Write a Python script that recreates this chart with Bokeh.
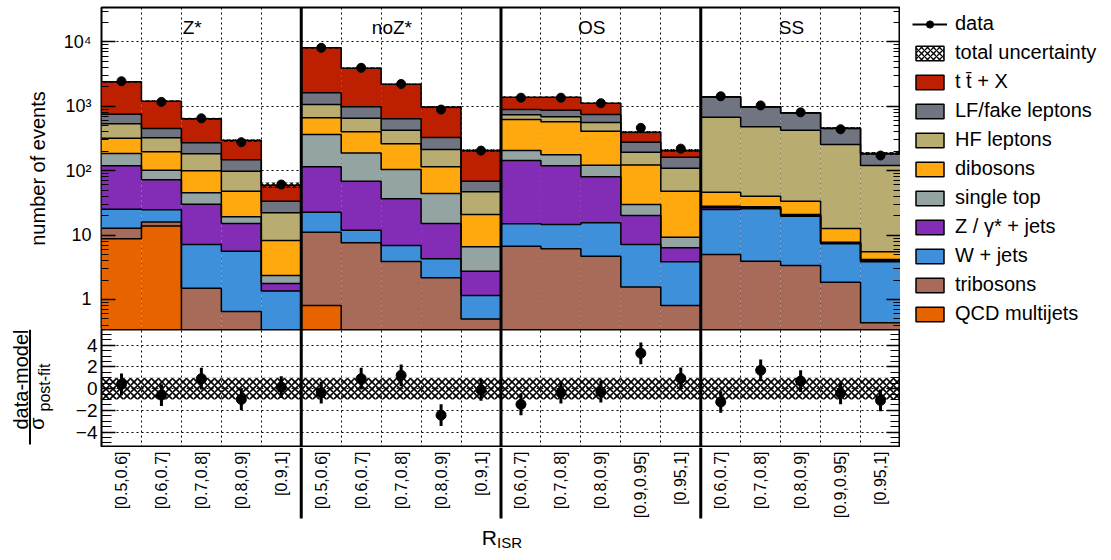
import numpy as np
from math import pi
from bokeh.plotting import figure
from bokeh.layouts import column, row
from bokeh.models import (Range1d, FixedTicker, LogAxis, LinearAxis, Legend, LegendItem,
                          Span, Grid)
from bokeh.embed import file_html
from bokeh.resources import INLINE
from bokeh.core.properties import value

FONT = "Liberation Sans"

# ---------------- data ----------------
regions = ["Z*", "noZ*", "OS", "SS"]
region_sizes = [5, 5, 5, 5]
bin_labels = ["[0.5,0.6]", "[0.6,0.7]", "[0.7,0.8]", "[0.8,0.9]", "[0.9,1]",
              "[0.5,0.6]", "[0.6,0.7]", "[0.7,0.8]", "[0.8,0.9]", "[0.9,1]",
              "[0.6,0.7]", "[0.7,0.8]", "[0.8,0.9]", "[0.9,0.95]", "[0.95,1]",
              "[0.6,0.7]", "[0.7,0.8]", "[0.8,0.9]", "[0.9,0.95]", "[0.95,1]"]

qcd = [8.75, 13.8, 0, 0, 0, 0.81, 0, 0, 0, 0, 0, 0, 0, 0, 0, 0, 0, 0, 0, 0]
tribosons = [4.05, 2.1, 1.5, 0.65, 0.25, 10.3, 7.59, 3.89, 2.17, 0.50,
             6.73, 6.12, 4.71, 1.57, 0.81, 5.0, 3.94, 3.37, 1.86, 0.435]
wjets = [12.4, 8.8, 5.64, 4.97, 1.11, 11.6, 4.31, 3.01, 2.11, 0.65,
         8.27, 8.48, 10.8, 5.57, 3.04, 20.0, 21.6, 16.3, 5.47, 3.41]
zjets = [93.8, 47.5, 23.1, 9.48, 0.41, 92.3, 56.8, 29.7, 10.8, 1.6,
         129, 105, 64.9, 13.0, 2.49, 1.5, 1.0, 0.6, 0.2, 0.17]
single_top = [66, 29.8, 15.1, 4.1, 0.59, 250, 120, 67.4, 29.2, 3.83,
              62, 58, 41.6, 9.8, 2.94, 1.6, 1.0, 0.6, 0.23, 0.16]
dibosons = [135, 94, 54.3, 28.9, 5.88, 297, 213, 157, 70.7, 14.3,
            418, 396, 289, 93.1, 38.8, 18.3, 12.7, 12.7, 4.94, 1.32]
hf_leptons = [215, 128, 83.4, 50.1, 14.0, 405, 252, 165, 98, 26.1,
              114, 112, 149, 71, 60.9, 631, 441, 392, 242, 114.5]
lf_fake = [219, 128, 88, 49.8, 11.4, 555, 328, 214, 115, 21.7,
           154, 185, 186, 83, 53, 713, 493, 361, 198, 63]
ttx = [1646, 748, 369, 146, 26, 6468, 2928, 1560, 640, 137,
       493, 514, 371, 119, 44, 13, 8, 6, 4, 2]

data_counts = [2450, 1170, 650, 277, 61, 8100, 3960, 2220, 890, 205,
               1360, 1360, 1117, 463, 220, 1430, 1030, 805, 440, 172]
unc_rel = [0.03, 0.03, 0.04, 0.05, 0.10, 0.03, 0.03, 0.03, 0.04, 0.05,
           0.03, 0.03, 0.03, 0.04, 0.05, 0.03, 0.03, 0.03, 0.04, 0.05]

pulls = [0.4, -0.59, 0.92, -0.99, 0.15, -0.37, 0.92, 1.23, -2.44, -0.12,
         -1.45, -0.37, -0.28, 3.26, 0.95, -1.23, 1.69, 0.70, -0.43, -1.08]
pull_err = [1.0] * 20
pull_band = [1.0] * 20

process_names = ["t t\u0304 + X", "LF/fake leptons", "HF leptons", "dibosons", "single top",
                 "Z / \u03b3* + jets", "W + jets", "tribosons", "QCD multijets"]
process_colors = ["#bd1f01", "#717581", "#b9ac70", "#ffa90e", "#94a4a2",
                  "#832db6", "#3f90da", "#a96b59", "#e76300"]
process_values = [ttx, lf_fake, hf_leptons, dibosons, single_top, zjets, wjets, tribosons, qcd]

# ---------------- derived ----------------
n = len(bin_labels)
edges = np.arange(n + 1, dtype=float)
left = edges[:-1]
right = edges[1:]
centers = left + 0.5
FLOOR = 1e-3
bottom_to_top = [np.array(v, dtype=float) for v in process_values[::-1]]
colors_btt = process_colors[::-1]
cum = np.cumsum(np.vstack(bottom_to_top), axis=0)
tops = np.maximum(cum, FLOOR)
bottoms = np.vstack([np.full(n, FLOOR), tops[:-1]])
total = cum[-1]
unc = np.array(unc_rel)
dc = np.array(data_counts, dtype=float)
sep_pos = [float(v) for v in np.cumsum(region_sizes)[:-1]]
region_starts = np.concatenate([[0], np.cumsum(region_sizes)[:-1]])

FRAME_W = 799
LEFT_B = 101
YL_W = 60
TOP_B = 7
HATCH = dict(hatch_pattern="diagonal_cross", hatch_color="black", hatch_scale=6, hatch_weight=1.3)


def style_axis(ax, size="18px", standoff=10, tin=14, tmin=7):
    ax.axis_line_color = None
    ax.major_tick_in = tin
    ax.major_tick_out = 0
    ax.minor_tick_in = tmin
    ax.minor_tick_out = 0
    ax.major_tick_line_color = "black"
    ax.minor_tick_line_color = "black"
    ax.major_tick_line_width = 1.3
    ax.minor_tick_line_width = 1.1
    ax.major_label_text_font = FONT
    ax.major_label_text_font_size = size
    ax.major_label_text_color = "black"
    ax.major_label_standoff = standoff


def bare(fig):
    fig.outline_line_color = None
    fig.xgrid.grid_line_color = None
    fig.ygrid.grid_line_color = None


# ---------------- top panel ----------------
p = figure(frame_width=FRAME_W, frame_height=322, y_axis_type="log",
           x_range=Range1d(0, n), y_range=Range1d(0.342, 34200),
           x_axis_location=None, output_backend="svg", toolbar_location=None,
           min_border_left=LEFT_B, min_border_top=TOP_B, min_border_bottom=0, min_border_right=0)
p.outline_line_color = "black"
p.outline_line_width = 2
p.background_fill_color = "white"
p.border_fill_color = "white"
p.ygrid.grid_line_color = None
p.xgrid.grid_line_color = None

major_log = [1, 10, 100, 1000, 10000]
minor_log = [k * 10.0 ** d for d in range(-1, 5) for k in range(2, 10)]
ya = p.yaxis[0]
ya.ticker = FixedTicker(ticks=major_log, minor_ticks=minor_log)
style_axis(ya, size="18px", standoff=10)
ya.major_label_overrides = {1: "1", 10: "10", 100: "10\u00b2", 1000: "10\u00b3", 10000: "10\u2074"}
ya.axis_label = "number of events"
ya.axis_label_text_font = FONT
ya.axis_label_text_font_size = "20px"
ya.axis_label_text_font_style = "normal"
ya.axis_label_text_color = "black"
ya.axis_label_standoff = 12

ra = LogAxis(ticker=FixedTicker(ticks=major_log, minor_ticks=minor_log))
style_axis(ra, size="12px", standoff=0)
ra.major_label_overrides = {t: "" for t in major_log}
p.add_layout(ra, "right")

p.add_layout(Grid(dimension=0, ticker=FixedTicker(ticks=list(edges[1:-1])),
                  grid_line_color="black", grid_line_dash="2 3", grid_line_width=1))
p.add_layout(Grid(dimension=1, ticker=FixedTicker(ticks=major_log),
                  grid_line_color="black", grid_line_dash="2 3", grid_line_width=1))

for k in range(len(bottom_to_top)):
    p.quad(left=left, right=right, bottom=bottoms[k], top=tops[k],
           fill_color=colors_btt[k], line_color=None)
for k in range(len(bottom_to_top)):
    p.step(x=edges, y=np.append(tops[k], tops[k][-1]), mode="after",
           line_color="black", line_width=1.5)

p.quad(left=left, right=right, bottom=total * (1 - unc), top=total * (1 + unc),
       fill_color=None, line_color=None, **HATCH)

p.segment(x0=centers, x1=centers, y0=dc - np.sqrt(dc), y1=dc + np.sqrt(dc),
          line_color="black", line_width=2)
p.scatter(x=centers, y=dc, size=9, color="black")

for s in sep_pos:
    p.add_layout(Span(location=s, dimension="height", line_color="black", line_width=3))

p.text(x=region_starts + 2.27, y=16500, text=regions, text_align="center",
       text_baseline="middle", text_font=value(FONT), text_font_size="19px", text_color="black")

# ---------------- legend figure ----------------
# The same data are drawn here, but the ranges keep them out of view;
# only the legend of this figure is visible.
lg = figure(frame_width=198, frame_height=345, x_range=Range1d(-3, -2), y_range=Range1d(-3, -2),
            x_axis_location=None, y_axis_location=None, output_backend="svg",
            toolbar_location=None, min_border_left=12, min_border_right=0,
            min_border_top=TOP_B + 5, min_border_bottom=0)
bare(lg)
items = []
dl = lg.line(x=centers, y=dc, line_color="black", line_width=2)
ds = lg.scatter(x=centers, y=dc, size=8, color="black")
items.append(LegendItem(label="data", renderers=[dl, ds]))
du = lg.quad(left=left, right=right, bottom=total * (1 - unc), top=total * (1 + unc),
             fill_color="white", line_color="black", line_width=1.5, **HATCH)
items.append(LegendItem(label="total uncertainty", renderers=[du]))
btt_names = process_names[::-1]
leg_r = {}
for k in range(len(bottom_to_top)):
    leg_r[btt_names[k]] = lg.quad(left=left, right=right, bottom=bottoms[k], top=tops[k],
                                  fill_color=colors_btt[k], line_color="black", line_width=1.5)
for name in process_names:
    items.append(LegendItem(label=name, renderers=[leg_r[name]]))

legend = Legend(items=items, location="top_left", orientation="vertical",
                glyph_width=35, glyph_height=18, label_height=18, spacing=6,
                label_standoff=8, padding=8, margin=0,
                label_text_font=FONT, label_text_font_size="20px", label_text_color="black",
                border_line_color=None, background_fill_alpha=0)
lg.add_layout(legend)

# ---------------- ratio y-label strip ----------------
yl = figure(frame_width=YL_W, frame_height=118, x_range=Range1d(0, YL_W), y_range=Range1d(0, 118),
            x_axis_location=None, y_axis_location=None, output_backend="svg",
            toolbar_location=None, min_border_left=0, min_border_right=0,
            min_border_top=0, min_border_bottom=0)
bare(yl)
yl.text(x=[20], y=[68], text=["data-model"], angle=pi / 2, text_align="center",
        text_baseline="middle", text_font=value(FONT), text_font_size="20px", text_color="black")
yl.segment(x0=[29.5], x1=[29.5], y0=[3], y1=[118], line_color="black", line_width=2)
yl.text(x=[36], y=[24], text=["\u03c3"], angle=pi / 2, text_align="center",
        text_baseline="middle", text_font=value(FONT), text_font_size="20px", text_color="black")
yl.text(x=[44], y=[60], text=["post-fit"], angle=pi / 2, text_align="center",
        text_baseline="middle", text_font=value(FONT), text_font_size="16px", text_color="black")

# ---------------- ratio panel ----------------
q = figure(frame_width=FRAME_W, frame_height=118, x_range=p.x_range,
           y_range=Range1d(-5.42, 5.45), x_axis_location=None,
           output_backend="svg", toolbar_location=None,
           min_border_left=LEFT_B - YL_W, min_border_top=0, min_border_bottom=0, min_border_right=0)
q.outline_line_color = "black"
q.outline_line_width = 2
q.xgrid.grid_line_color = None
q.ygrid.grid_line_color = None
major_r = [-4, -2, 0, 2, 4]
minor_r = list(np.arange(-5.0, 5.51, 0.5))
qa = q.yaxis[0]
qa.ticker = FixedTicker(ticks=major_r, minor_ticks=minor_r)
style_axis(qa, size="19px", standoff=4, tin=14, tmin=10)
qa.major_label_overrides = {-4: "\u22124", -2: "\u22122", 0: "0", 2: "2", 4: "4"}
qra = LinearAxis(ticker=FixedTicker(ticks=major_r, minor_ticks=minor_r))
style_axis(qra, size="12px", standoff=0, tin=14, tmin=10)
qra.major_label_overrides = {t: "" for t in major_r}
q.add_layout(qra, "right")

q.add_layout(Grid(dimension=0, ticker=FixedTicker(ticks=list(edges[1:-1])),
                  grid_line_color="black", grid_line_dash="2 3", grid_line_width=1))
q.add_layout(Grid(dimension=1, ticker=FixedTicker(ticks=major_r),
                  grid_line_color="black", grid_line_dash="2 3", grid_line_width=1))

pb = np.array(pull_band)
q.quad(left=left, right=right, bottom=-pb, top=pb, fill_color="white", fill_alpha=0,
       line_color=None, hatch_pattern="diagonal_cross", hatch_color="black",
       hatch_scale=7, hatch_weight=1.6)
pl = np.array(pulls)
pe = np.array(pull_err)
q.segment(x0=centers, x1=centers, y0=pl - pe, y1=pl + pe, line_color="black", line_width=3)
q.scatter(x=centers, y=pl, size=10, color="black")
for s in sep_pos:
    q.add_layout(Span(location=s, dimension="height", line_color="black", line_width=3))

# ---------------- x label strip ----------------
STRIP_H = 106
b = figure(frame_width=FRAME_W, frame_height=STRIP_H, x_range=p.x_range,
           y_range=Range1d(0, STRIP_H), x_axis_location=None, y_axis_location=None,
           output_backend="svg", toolbar_location=None,
           min_border_left=LEFT_B, min_border_top=0, min_border_bottom=0, min_border_right=0)
bare(b)
b.text(x=centers, y=STRIP_H - 4, text=bin_labels, angle=pi / 2, text_align="right",
       text_baseline="middle", text_font=value(FONT), text_font_size="16px", text_color="black")
b.segment(x0=sep_pos, x1=sep_pos, y0=35, y1=STRIP_H, line_color="black", line_width=3)
b.text(x=[n / 2 - 0.1], y=[16], text=["R"], text_align="right", text_baseline="middle",
       text_font=value(FONT), text_font_size="21px", text_color="black")
b.text(x=[n / 2 - 0.1], y=[11], text=["ISR"], text_align="left", text_baseline="middle",
       text_font=value(FONT), text_font_size="15px", text_color="black")

layout = row(column(p, row(yl, q, spacing=0), b, spacing=0), lg, spacing=0)
open("out.html", "w").write(file_html(layout, INLINE))
